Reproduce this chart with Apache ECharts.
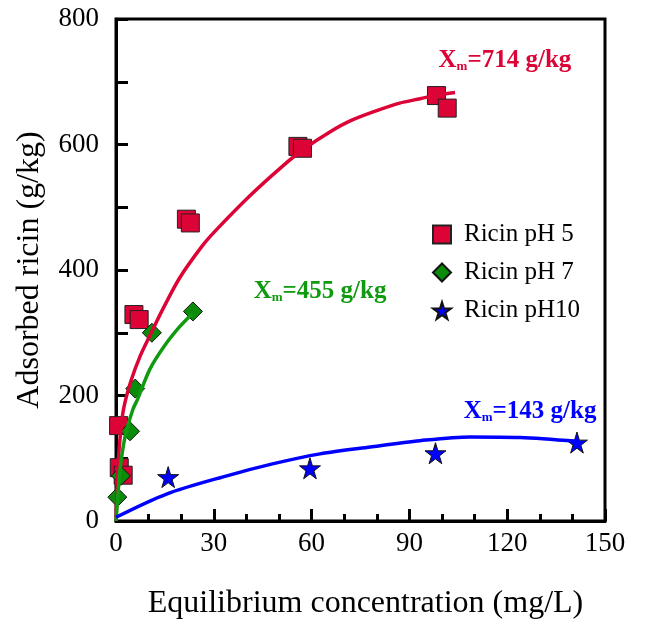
<!DOCTYPE html>
<html>
<head>
<meta charset="utf-8">
<script src="https://cdn.jsdelivr.net/npm/echarts@6/dist/echarts.min.js"></script>
<style>html,body{margin:0;padding:0;background:#fff}#c{width:645px;height:625px}</style>
</head>
<body>
<div id="c"></div>
<script>
// ---- data ----
var seriesNames = ['Ricin pH 5', 'Ricin pH 7', 'Ricin pH10'];
var ph5Points = [[0.8,152],[1.0,85],[2.2,73],[5.5,329],[7.1,321],[21.6,481],[22.8,475],[55.8,597],[57.2,594],[98.3,678],[101.6,658]];
var ph7Points = [[0.4,38],[1.5,72],[4.3,143],[5.9,211],[11.0,300],[23.6,334]];
var ph10Points = [[16,70],[59.5,84],[98,108],[141.4,125]];
var ph5Curve = [[0,0],[0.3,50],[0.7,95],[1.3,135],[2.3,178],[4.5,222],[7.5,264],[11,302],[14.4,338],[19.6,388],[26.4,438],[30.4,462],[41,518],[51.2,566],[57.4,592],[65.6,620],[72,638],[80,654],[87,666],[93.3,673],[98.5,679],[104,683]];
var ph7Curve = [[0,0],[0.3,20],[1.2,80],[2.8,135],[5.2,178],[6.7,195],[10.4,242],[15,280],[19.6,310],[23.3,330]];
var ph10Curve = [[0,6],[15.5,43],[34,72],[48,91],[62.6,107],[78,118],[93.3,128],[108.6,134],[124,133],[141.3,127]];
var annoTexts = ['714 g/kg', '455 g/kg', '143 g/kg'];
var annoPos = [[119.3,734],[62.6,366],[127,175]];
var xTicks = {min:0, max:150, interval:30};
var yTicks = {min:0, max:800, interval:200};

var red = '#dc0436', green = '#109a10', blue = '#0000ff';
var serif = '"Liberation Serif","DejaVu Serif",serif';
var star = 'path://M50,0 L61,35 L98,35 L68,57 L79,91 L50,70 L21,91 L32,57 L2,35 L39,35 Z';
var colors = [red, green, blue];

function annoSeries(i) {
  return {
    type: 'scatter', symbolSize: 0, silent: true, z: 10,
    data: [annoPos[i]],
    itemStyle: {opacity: 1},
    label: {
      show: true, position: 'inside',
      formatter: '{x|X}{m|m}{x|=' + annoTexts[i] + '}',
      rich: {
        x: {fontFamily: serif, fontWeight: 'bold', fontSize: 25, color: colors[i], verticalAlign: 'bottom', lineHeight: 26},
        m: {fontFamily: serif, fontWeight: 'bold', fontSize: 13, color: colors[i], verticalAlign: 'bottom', lineHeight: 22}
      }
    }
  };
}

var chart = echarts.init(document.getElementById('c'));
chart.setOption({
  animation: false,
  grid: {left: 116, right: 40, top: 19, bottom: 103, show: true, borderColor: '#000', borderWidth: 3},
  legend: {
    orient: 'vertical', left: 427, top: 217, itemGap: 13, itemWidth: 18, itemHeight: 18,
    data: seriesNames,
    textStyle: {fontFamily: serif, fontSize: 25, color: '#000', padding: [0, 0, 0, 8]}
  },
  xAxis: {
    type: 'value', min: xTicks.min, max: xTicks.max, interval: xTicks.interval,
    name: 'Equilibrium concentration (mg/L)', nameLocation: 'middle', nameGap: 67,
    nameTextStyle: {fontFamily: serif, fontSize: 32, color: '#000', padding: [0, 0, 0, 10]},
    axisLine: {show: true, lineStyle: {color: '#000', width: 3}},
    axisTick: {inside: true, length: 12, lineStyle: {color: '#000', width: 3}},
    minorTick: {show: true, splitNumber: 3, length: 7, lineStyle: {color: '#000', width: 3}},
    splitLine: {show: false},
    axisLabel: {fontFamily: serif, fontSize: 27, color: '#000', margin: 9}
  },
  yAxis: {
    type: 'value', min: yTicks.min, max: yTicks.max, interval: yTicks.interval,
    name: 'Adsorbed ricin (g/kg)', nameLocation: 'middle', nameGap: 70,
    nameTextStyle: {fontFamily: serif, fontSize: 32, color: '#000'},
    axisLine: {show: true, lineStyle: {color: '#000', width: 3}},
    axisTick: {inside: true, length: 12, lineStyle: {color: '#000', width: 3}},
    minorTick: {show: true, splitNumber: 2, length: 12, lineStyle: {color: '#000', width: 3}},
    splitLine: {show: false},
    axisLabel: {fontFamily: serif, fontSize: 27, color: '#000', margin: 17}
  },
  series: [
    {name: seriesNames[0], type: 'scatter', data: ph5Points, symbol: 'rect', symbolSize: 18, z: 2,
     itemStyle: {color: red, borderColor: '#222', borderWidth: 1, opacity: 1}},
    {name: seriesNames[1], type: 'scatter', data: ph7Points, symbol: 'diamond', symbolSize: 19, z: 2,
     itemStyle: {color: '#0a8c0a', borderColor: '#111', borderWidth: 1, opacity: 1}},
    {name: seriesNames[2], type: 'scatter', data: ph10Points, symbol: star, symbolSize: 21, z: 2,
     itemStyle: {color: blue, borderColor: '#111', borderWidth: 1, opacity: 1}},
    {type: 'line', data: ph5Curve, smooth: 0.3, showSymbol: false, z: 3, lineStyle: {color: red, width: 3.5}},
    {type: 'line', data: ph7Curve, smooth: 0.3, showSymbol: false, z: 3, lineStyle: {color: green, width: 3.5}},
    {type: 'line', data: ph10Curve, smooth: 0.3, showSymbol: false, z: 3, lineStyle: {color: blue, width: 3.5}},
    annoSeries(0), annoSeries(1), annoSeries(2)
  ]
});
</script>
</body>
</html>
